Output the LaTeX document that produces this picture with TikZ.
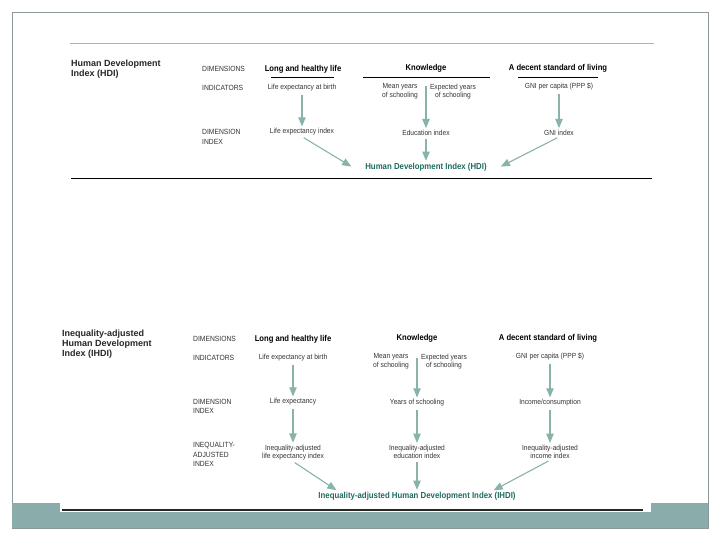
\documentclass[tikz,border=0pt]{standalone}
\usepackage{fontspec}
\setmainfont[FakeStretch=0.9]{Liberation Sans}
\newfontfamily\titlefont{Liberation Sans}
\usepackage{tikz}
\usetikzlibrary{shapes,arrows,positioning}

\definecolor{slidegray}{HTML}{8A9898}
\definecolor{slideteal}{HTML}{8AADAC}
\definecolor{ruleteal}{HTML}{9DBBB8}
\definecolor{arrowteal}{HTML}{88B3AB}
\definecolor{hditeal}{HTML}{1F6B60}
\definecolor{textgray}{HTML}{333333}

\tikzset{
	dimname/.style = {font=\bfseries\fontsize{8.5}{9}\selectfont, text=black, inner sep=1pt},
	indname/.style = {font=\fontsize{7.4}{8.6}\selectfont, text=textgray, align=center, inner sep=1pt},
	rowname/.style = {font=\fontsize{7.5}{9.5}\selectfont, text=textgray, anchor=west, align=left, inner sep=0pt},
	result/.style = {font=\bfseries\fontsize{8.7}{9.5}\selectfont, text=hditeal, inner sep=1pt},
	titlebox/.style = {font=\titlefont\bfseries\fontsize{9}{10}\selectfont, text=black!85, anchor=north west, align=left, inner sep=0pt},
	flow/.style = {-triangle 45, draw=arrowteal, line width=1.1pt, shorten <=2pt, shorten >=1pt}
}

\begin{document}
\begin{tikzpicture}[x=1pt, y=-1pt]
\useasboundingbox (0,0) rectangle (720,540);
\draw [slidegray, line width=0.8pt] (12,12) rectangle (708,528);
\fill [slideteal] (12,503) rectangle (708,528);
\fill [white] (60,490) rectangle (651,512);
\draw [ruleteal, line width=0.8pt] (70,43) -- (654,43);
\draw [line width=1pt] (71,179) -- (652,179);
\draw [black!85, line width=2pt] (62,510) -- (643,510);

\node [titlebox] (hdiTitle) at (71,60) {Human Development\\Index (HDI)};
\node [rowname] (dimRow) at (202,69) {DIMENSIONS};
\node [rowname] (indRow) at (202,88) {INDICATORS};
\node [rowname] (idxRow) at (202,137) {DIMENSION\\INDEX};

\node [dimname] (lifeDim) at (303,69) {Long and healthy life};
\node [dimname] (knowDim) at (426,68) {Knowledge};
\node [dimname] (livDim) at (558,68) {A decent standard of living};
\draw [line width=0.8pt] (271,77) -- (334,77)
	(363,77) -- (490,77)
	(518,77) -- (598,77);

\node [indname] (lifeInd) at (302,88) {Life expectancy at birth};
\node [indname] (meanInd) at (400,91.5) {Mean years\\of schooling};
\node [indname] (expInd) at (453,91.5) {Expected years\\of schooling};
\coordinate (knowInd) at (426,84);
\node [indname] (gniInd) at (559,87) {GNI per capita (PPP \$)};

\node [indname] (lifeIdx) at (302,132) {Life expectancy index};
\node [indname] (eduIdx) at (426,133) {Education index};
\node [indname] (gniIdx) at (559,133) {GNI index};
\node [result] (hdi) at (426,167) {Human Development Index (HDI)};

\draw [flow] (lifeInd) -- (lifeIdx);
\draw [flow] (knowInd) -- (eduIdx);
\draw [flow] (gniInd) -- (gniIdx);
\draw [flow] (lifeIdx.south) -- ([xshift=-12pt]hdi.west);
\draw [flow] (eduIdx) -- (hdi);
\draw [flow] (gniIdx.south) -- ([xshift=12pt]hdi.east);

\node [titlebox] (ihdiTitle) at (62,330) {Inequality-adjusted\\Human Development\\Index (IHDI)};
\node [rowname] (dimRowB) at (193,339) {DIMENSIONS};
\node [rowname] (indRowB) at (193,358) {INDICATORS};
\node [rowname] (idxRowB) at (193,406.5) {DIMENSION\\INDEX};
\node [rowname] (adjRowB) at (193,454.5) {INEQUALITY-\\ADJUSTED\\INDEX};

\node [dimname] (lifeDimB) at (293,339) {Long and healthy life};
\node [dimname] (knowDimB) at (417,338) {Knowledge};
\node [dimname] (livDimB) at (548,338) {A decent standard of living};

\node [indname] (lifeIndB) at (293,358) {Life expectancy at birth};
\node [indname] (meanIndB) at (391,361.5) {Mean years\\of schooling};
\node [indname] (expIndB) at (444,361.5) {Expected years\\of schooling};
\coordinate (knowIndB) at (417,356);
\node [indname] (gniIndB) at (550,357) {GNI per capita (PPP \$)};

\node [indname] (lifeIdxB) at (293,402) {Life expectancy};
\node [indname] (eduIdxB) at (417,403) {Years of schooling};
\node [indname] (gniIdxB) at (550,403) {Income/consumption};

\node [indname] (lifeAdjB) at (293,452.5) {Inequality-adjusted\\life expectancy index};
\node [indname] (eduAdjB) at (417,452) {Inequality-adjusted\\education index};
\node [indname] (gniAdjB) at (550,452) {Inequality-adjusted\\income index};
\node [result] (ihdi) at (417,496) {Inequality-adjusted Human Development Index (IHDI)};

\draw [flow] (lifeIndB) -- (lifeIdxB);
\draw [flow] (lifeIdxB) -- (lifeAdjB);
\draw [flow] (knowIndB) -- (eduIdxB);
\draw [flow] (eduIdxB) -- (eduAdjB);
\draw [flow] (gniIndB) -- (gniIdxB);
\draw [flow] (gniIdxB) -- (gniAdjB);
\draw [flow] (lifeAdjB.south) -- ([xshift=20pt]ihdi.north west);
\draw [flow] (eduAdjB) -- (ihdi);
\draw [flow] (gniAdjB.south) -- ([xshift=-24pt]ihdi.north east);
\end{tikzpicture}
\end{document}
